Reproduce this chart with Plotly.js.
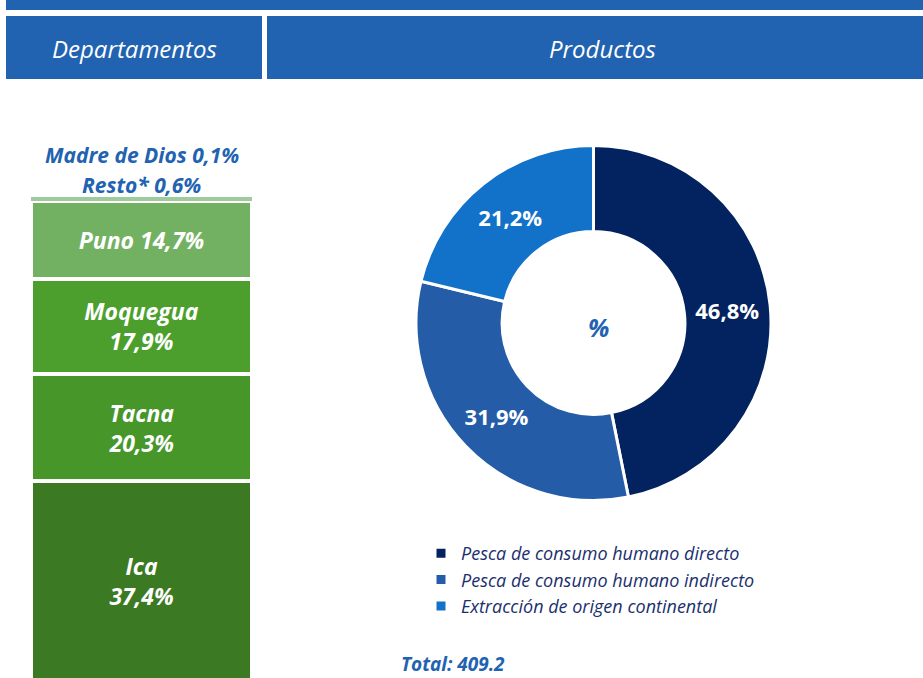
<!DOCTYPE html>
<html>
<head>
<meta charset="utf-8">
<script src="https://cdn.plot.ly/plotly-3.0.1.min.js"></script>
<style>html,body{margin:0;padding:0;background:#fff;}#chart{width:923px;height:678px;}</style>
</head>
<body>
<div id="chart"></div>
<script>
// ---- Data ----
const departamentos = ['Ica', 'Tacna', 'Moquegua', 'Puno', 'Resto*', 'Madre de Dios'];
const participacionDept = [37.4, 20.3, 17.9, 14.7, 0.6, 0.1];
const etiquetasDept = ['Ica<br>37,4%', 'Tacna<br>20,3%', 'Moquegua<br>17,9%', 'Puno 14,7%', 'Resto* 0,6%', 'Madre de Dios 0,1%'];
const coloresDept = ['#3B7922', '#46962A', '#4C9F2D', '#73B162', '#A3C99B', '#8FD1AA'];

const productos = ['Pesca de consumo humano directo', 'Pesca de consumo humano indirecto', 'Extracción de origen continental'];
const participacionProd = [46.8, 31.9, 21.2];
const etiquetasProd = ['46,8%', '31,9%', '21,2%'];
const coloresProd = ['#022260', '#255CA7', '#1271C8'];

const encabezados = ['Departamentos', 'Productos'];
const totalTexto = 'Total: 409.2';

// ---- Build ----
const W = 923, H = 678;
const px = v => v / W;
const py = v => 1 - v / H;
const azul = '#2163B0';
const font = 'Open Sans, Noto Sans, sans-serif';

const traces = [];
const smallLabels = [];
departamentos.forEach((d, i) => {
  const big = participacionDept[i] >= 5;
  traces.push({
    type: 'bar', x: ['Departamentos'], y: [participacionDept[i]], name: d,
    xaxis: 'x', yaxis: 'y', showlegend: false, hoverinfo: 'skip',
    marker: {color: coloresDept[i], line: {color: '#ffffff', width: big ? 4 : 0}},
    text: big ? [etiquetasDept[i]] : [''], textposition: 'inside', insidetextanchor: 'middle',
    constraintext: 'none', textangle: 0,
    textfont: {family: font, size: 23, color: '#ffffff', weight: 700, style: 'italic'}
  });
  if (!big) smallLabels.push(i);
});

const totalStack = participacionDept.reduce((a, b) => a + b, 0);

traces.push({
  type: 'pie', labels: productos, values: participacionProd, text: etiquetasProd,
  textinfo: 'text', textposition: 'inside', insidetextorientation: 'horizontal',
  sort: false, direction: 'clockwise', rotation: 0, hole: 0.515,
  marker: {colors: coloresProd, line: {color: '#ffffff', width: 3}},
  textfont: {family: font, size: 22, color: '#ffffff', weight: 700},
  domain: {x: [px(416), px(771)], y: [py(501), py(145)]},
  hoverinfo: 'skip', showlegend: true
});

const annotations = [];
// small department labels above the stack
const shifts = {4: 12, 5: 42};
smallLabels.forEach(i => {
  annotations.push({
    xref: 'x', yref: 'y', x: 0, y: totalStack, yshift: shifts[i] || 10,
    xanchor: 'center', yanchor: 'middle',
    text: etiquetasDept[i], showarrow: false,
    font: {family: font, size: 21, color: azul, weight: 700, style: 'italic'}
  });
});
// headers
annotations.push({xref: 'paper', yref: 'paper', x: px(134), y: py(48), xanchor: 'center', yanchor: 'middle',
  text: encabezados[0], showarrow: false, font: {family: font, size: 24, color: '#ffffff', style: 'italic'}});
annotations.push({xref: 'paper', yref: 'paper', x: px(602), y: py(48), xanchor: 'center', yanchor: 'middle',
  text: encabezados[1], showarrow: false, font: {family: font, size: 24, color: '#ffffff', style: 'italic'}});
// center %
annotations.push({xref: 'paper', yref: 'paper', x: px(598), y: py(327), xanchor: 'center', yanchor: 'middle',
  text: '%', showarrow: false, font: {family: font, size: 25, color: azul, weight: 700, style: 'italic'}});
// total
annotations.push({xref: 'paper', yref: 'paper', x: px(399), y: py(664), xanchor: 'left', yanchor: 'middle',
  text: totalTexto, showarrow: false, font: {family: font, size: 19, color: azul, weight: 700, style: 'italic'}});

const shapes = [
  {type: 'rect', xref: 'paper', yref: 'paper', x0: px(6), x1: 1, y0: py(10), y1: py(-5), fillcolor: azul, line: {width: 0}, layer: 'below'},
  {type: 'rect', xref: 'paper', yref: 'paper', x0: px(6), x1: px(262), y0: py(79), y1: py(16), fillcolor: azul, line: {width: 0}, layer: 'below'},
  {type: 'rect', xref: 'paper', yref: 'paper', x0: px(267), x1: 1, y0: py(79), y1: py(16), fillcolor: azul, line: {width: 0}, layer: 'below'}
];

// y scale: stack top at pixel 197, zero at pixel 680
const k = (680 - 197) / totalStack;
const yLo = (680 - 678) / k;
const yHi = totalStack + 197 / k;

const layout = {
  width: W, height: H, margin: {l: 0, r: 0, t: 0, b: 0},
  paper_bgcolor: '#ffffff', plot_bgcolor: 'rgba(0,0,0,0)',
  barmode: 'stack', bargap: 0,
  xaxis: {domain: [px(31), px(252)], range: [-0.5, 0.5], visible: false, fixedrange: true},
  yaxis: {domain: [0, 1], range: [yLo, yHi], visible: false, fixedrange: true},
  showlegend: true,
  legend: {x: px(421), y: py(535), xanchor: 'left', yanchor: 'top', bgcolor: 'rgba(0,0,0,0)', traceorder: 'normal',
    font: {family: font, size: 18, color: '#1B2F6E', style: 'italic'}, itemclick: false, itemdoubleclick: false},
  annotations: annotations, shapes: shapes
};

Plotly.newPlot('chart', traces, layout, {displayModeBar: false, staticPlot: true});
</script>
</body>
</html>
